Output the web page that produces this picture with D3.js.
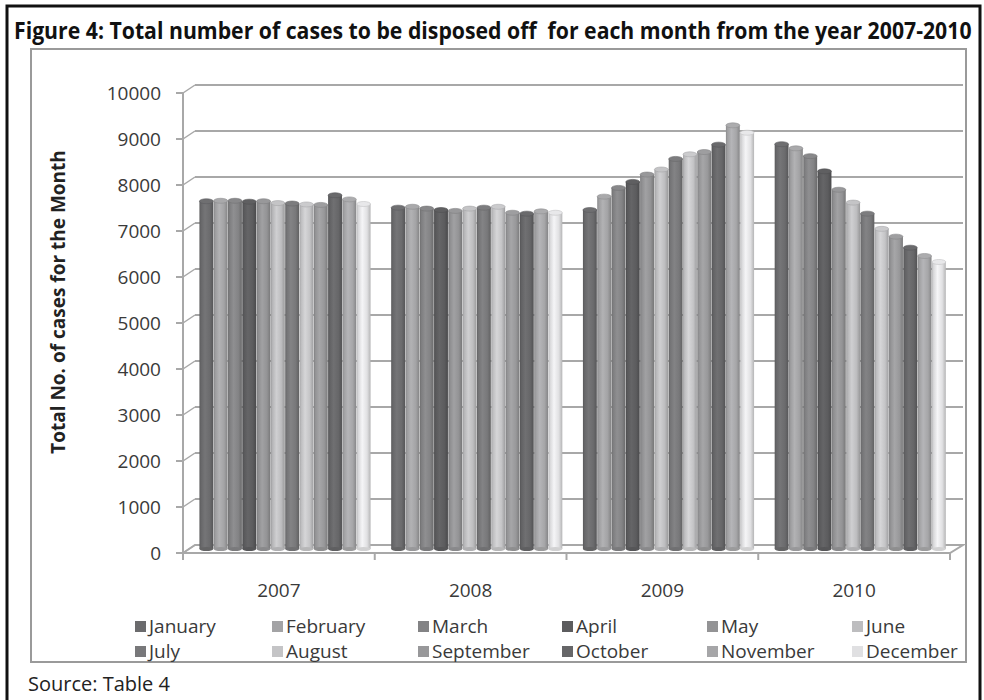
<!DOCTYPE html>
<html><head><meta charset="utf-8">
<script src="https://cdn.jsdelivr.net/npm/d3@7"></script>
<style>body{margin:0;background:#fff}svg{display:block}</style>
</head><body>
<svg id="c" width="984" height="700"></svg>
<script>
const years = ["2007","2008","2009","2010"];
const months = ["January","February","March","April","May","June","July","August","September","October","November","December"];
const values2007 = [7560,7570,7570,7550,7560,7520,7510,7490,7480,7690,7600,7500];
const values2008 = [7420,7440,7400,7370,7350,7400,7420,7440,7310,7290,7340,7310];
const values2009 = [7370,7660,7850,7980,8140,8250,8480,8580,8630,8790,9210,9050];
const values2010 = [8800,8710,8540,8210,7810,7530,7290,6960,6790,6550,6370,6240];
const yTicks = [0,1000,2000,3000,4000,5000,6000,7000,8000,9000,10000];
const monthColors = ["#6b6b6d","#a3a3a5","#838385","#5c5c5e","#939395","#bdbdbf","#78787a","#c4c4c6","#98989a","#666668","#a6a6a8","#e0e0e2"];

const allValues = [values2007, values2008, values2009, values2010];
const svg = d3.select("#c");
const font = "'Open Sans', Lato, sans-serif";

// frames
svg.append("path").attr("d","M7,700 V6 H980 V700").attr("fill","none").attr("stroke","#111").attr("stroke-width",3);
svg.append("rect").attr("x",31).attr("y",49).attr("width",935).attr("height",613)
  .attr("fill","none").attr("stroke","#9a9a9a").attr("stroke-width",2);

// title (horizontally condensed to fit like the original narrow bold face)
const title = svg.append("text").attr("x",0).attr("y",0).attr("font-family",font).attr("font-weight","bold")
  .attr("font-size",23).attr("fill","#111").attr("xml:space","preserve")
  .text("Figure 4: Total number of cases to be disposed off  for each month from the year 2007-2010");
const tLen = title.node().getComputedTextLength();
title.attr("transform",`translate(14,39) scale(${958/tLen},1)`);

const depthX = 12, depthY = -8;
const x0 = d3.scaleBand().domain(years).range([183, 950]).padding(0);
const x1 = d3.scaleBand().domain(months).range([16, 188]).padding(0.03);
const y = d3.scaleLinear().domain([0, 10000]).range([553, 93]);

const g = svg.append("g");
const gridColor = "#a8a8a8";

// back wall gridlines + diagonals
yTicks.forEach(t => {
  g.append("line").attr("x1",183+depthX).attr("x2",963).attr("y1",y(t)+depthY).attr("y2",y(t)+depthY)
    .attr("stroke",gridColor).attr("stroke-width",2);
  g.append("line").attr("x1",183).attr("x2",183+depthX).attr("y1",y(t)).attr("y2",y(t)+depthY)
    .attr("stroke",gridColor).attr("stroke-width",1.5);
});
// floor
g.append("path").attr("d",`M183,${y(0)} L${183+depthX},${y(0)+depthY} L963,${y(0)+depthY} L950,${y(0)} Z`)
  .attr("fill","none").attr("stroke",gridColor).attr("stroke-width",2);

// gradients
const defs = svg.append("defs");
monthColors.forEach((c,i) => {
  const base = d3.color(c);
  const gr = defs.append("linearGradient").attr("id","gr"+i).attr("x1","0").attr("x2","1").attr("y1","0").attr("y2","0");
  gr.append("stop").attr("offset","0%").attr("stop-color",base.darker(0.5));
  gr.append("stop").attr("offset","12%").attr("stop-color",base.darker(0.1));
  gr.append("stop").attr("offset","40%").attr("stop-color",base.brighter(0.25));
  gr.append("stop").attr("offset","75%").attr("stop-color",base);
  gr.append("stop").attr("offset","100%").attr("stop-color",base.darker(0.6));
});

// bars
const by = -4;
years.forEach((yr, yi) => {
  months.forEach((m, mi) => {
    const v = allValues[yi][mi];
    const xl = x0(yr) + x1(m);
    const w = x1.bandwidth();
    const top = y(v) + by;
    g.append("rect").attr("x",xl).attr("y",top).attr("width",w).attr("height",y(0)+by-top)
      .attr("fill",`url(#gr${mi})`);
    g.append("ellipse").attr("cx",xl+w/2).attr("cy",y(0)+by).attr("rx",w/2).attr("ry",2)
      .attr("fill",d3.color(monthColors[mi]).darker(0.2));
    g.append("ellipse").attr("cx",xl+w/2).attr("cy",top).attr("rx",w/2).attr("ry",2.5)
      .attr("fill",d3.color(monthColors[mi]).brighter(0.1)).attr("stroke",d3.color(monthColors[mi]).darker(0.4)).attr("stroke-width",0.6);
  });
});

// front axes
g.append("line").attr("x1",183).attr("x2",183).attr("y1",y(10000)).attr("y2",y(0)).attr("stroke",gridColor).attr("stroke-width",2);
g.append("line").attr("x1",183).attr("x2",950).attr("y1",y(0)).attr("y2",y(0)).attr("stroke",gridColor).attr("stroke-width",2);
yTicks.forEach(t => {
  g.append("line").attr("x1",176).attr("x2",183).attr("y1",y(t)).attr("y2",y(t)).attr("stroke",gridColor).attr("stroke-width",2);
  g.append("text").attr("x",161).attr("y",y(t)).attr("dy","0.35em").attr("text-anchor","end")
    .attr("font-family",font).attr("font-size",19).attr("fill","#3a3a3a").text(t);
});
[183, ...years.map(yr => x0(yr)+x0.bandwidth())].forEach(xx => {
  g.append("line").attr("x1",xx).attr("x2",xx).attr("y1",y(0)).attr("y2",y(0)+7).attr("stroke",gridColor).attr("stroke-width",2);
});
years.forEach(yr => {
  g.append("text").attr("x",x0(yr)+x0.bandwidth()/2).attr("y",590).attr("dy","0.35em").attr("text-anchor","middle")
    .attr("font-family",font).attr("font-size",19).attr("fill","#3a3a3a").text(yr);
});

// y title
svg.append("text").attr("transform","translate(58,302) rotate(-90)").attr("text-anchor","middle").attr("dy","0.35em")
  .attr("font-family",font).attr("font-weight","bold").attr("font-size",19).attr("fill","#222")
  .text("Total No. of cases for the Month");

// legend
const legX = [135,272,418,562,707,852];
const legY = [626,651];
months.forEach((m, i) => {
  const cx = legX[i % 6], cy = legY[Math.floor(i/6)];
  svg.append("rect").attr("x",cx).attr("y",cy-5).attr("width",11).attr("height",11).attr("fill",monthColors[i]);
  svg.append("text").attr("x",cx+14).attr("y",cy).attr("dy","0.35em").attr("font-family",font)
    .attr("font-size",19).attr("fill","#3a3a3a").text(m);
});

// source
svg.append("text").attr("x",28).attr("y",684).attr("dy","0.35em").attr("font-family",font)
  .attr("font-size",20).attr("fill","#222").text("Source: Table 4");
</script>
</body></html>
